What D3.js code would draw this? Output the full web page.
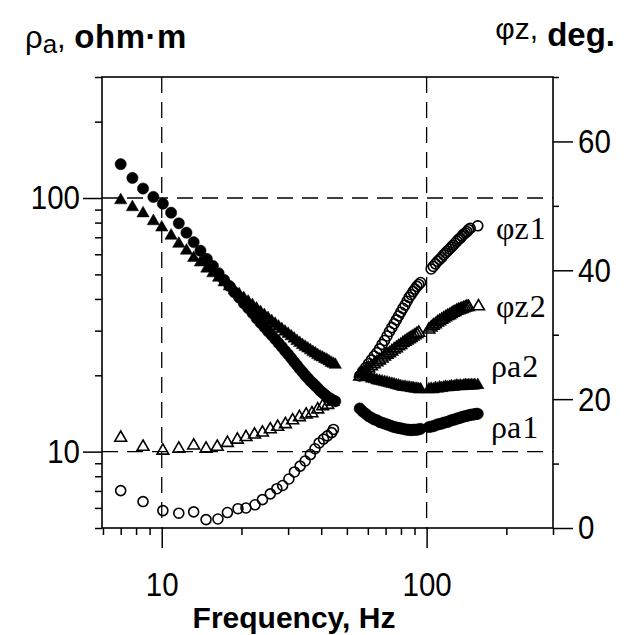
<!DOCTYPE html>
<html>
<head>
<meta charset="utf-8">
<script src="https://cdn.jsdelivr.net/npm/d3@7"></script>
<style>
  body { margin: 0; background: #fff; }
  svg { display: block; }
</style>
</head>
<body>
<div id="chart"></div>
<script>
// apparent resistivity, filled circles (rho_a1) and filled triangles (rho_a2), [Hz, ohm*m]
const rhoA1Low = [[7.0,136],[7.75,120],[8.5,109],[9.3,101],[10.1,95],[10.85,87.5],[11.6,79.5],[12.4,73],[13.2,67],[14.0,62],[14.8,57.5],[15.6,54],[16.4,50.5],[17.2,47.5],[18.0,45],[18.8,42.5],[19.6,40.5],[20.4,38.5],[21.2,36.8],[22.0,35.2],[22.8,33.6],[23.6,32.2],[24.4,31],[25.2,29.8],[26.0,28.8],[26.8,27.8],[27.6,26.8],[28.4,25.9],[29.2,25],[30.0,24.2],[30.8,23.4],[31.6,22.6],[32.4,21.9],[33.2,21.2],[34.0,20.6],[34.8,20],[35.6,19.5],[36.4,19],[37.2,18.6],[38.0,18.2],[38.8,17.8],[39.6,17.4],[40.4,17.1],[41.2,16.8],[42.0,16.5],[42.8,16.3],[43.6,16.1],[44.4,15.9],[45.2,15.8]];
const rhoA1High = [[55.9,14.8],[57.4,14.4],[58.9,14.1],[60.4,13.8],[61.9,13.6],[63.4,13.4],[64.9,13.3],[66.4,13.1],[67.9,13.0],[69.4,12.9],[70.9,12.8],[72.4,12.7],[73.9,12.6],[75.4,12.5],[76.9,12.45],[78.4,12.4],[79.9,12.35],[81.4,12.3],[82.9,12.25],[84.4,12.2],[85.9,12.2],[87.4,12.15],[88.9,12.2],[90.4,12.2],[91.9,12.2],[93.4,12.25],[94.9,12.3],
  [102,12.5],[104,12.55],[106,12.6],[108,12.7],[110,12.8],[112,12.85],[114,12.9],[116,13.0],[118,13.05],[120,13.1],[122,13.2],[124,13.3],[126,13.35],[128,13.4],[130,13.5],[132,13.55],[134,13.6],[136,13.7],[138,13.75],[140,13.8],[142,13.85],[144,13.9],[146,13.95],[148,14.0],[150,14.0],[152,14.05],[154,14.1],[156,14.1]];
const rhoA2Low = [[7.0,98],[7.75,92],[8.5,87],[9.3,81],[10.0,76.5],[10.85,71],[11.6,66],[12.4,62],[13.2,58],[14.0,55.7],[14.8,52.7],[15.6,50.5],[16.4,48.5],[17.2,46.5],[18.0,44.8],[18.8,43.2],[19.6,41.7],[20.4,40.3],[21.2,39],[22.0,37.8],[22.8,36.6],[23.6,35.5],[24.4,34.5],[25.2,33.6],[26.0,32.7],[26.8,31.9],[27.6,31.1],[28.4,30.4],[29.2,29.7],[30.0,29.1],[30.8,28.5],[31.6,27.9],[32.4,27.3],[33.2,26.8],[34.0,26.3],[34.8,25.9],[35.6,25.5],[36.4,25.1],[37.2,24.7],[38.0,24.4],[38.8,24.0],[39.6,23.7],[40.4,23.5],[41.2,23.2],[42.0,23.0],[42.8,22.7],[43.6,22.4],[44.4,22.2],[45.2,22.0]];
const rhoA2High = [[55.9,20.3],[57.4,20.0],[58.9,19.8],[60.4,19.6],[61.9,19.4],[63.4,19.3],[64.9,19.1],[66.4,19.0],[67.9,18.9],[69.4,18.8],[70.9,18.7],[72.4,18.6],[73.9,18.5],[75.4,18.4],[76.9,18.3],[78.4,18.2],[79.9,18.1],[81.4,18.0],[82.9,18.0],[84.4,17.9],[85.9,17.9],[87.4,17.8],[88.9,17.8],[90.4,17.7],[91.9,17.7],[93.4,17.6],[94.9,17.6],
  [102,17.6],[104,17.7],[106,17.6],[108,17.8],[110,17.7],[112,17.9],[114,17.8],[116,17.9],[118,18.0],[120,17.9],[122,18.0],[124,18.1],[126,18.0],[128,18.1],[130,18.2],[132,18.1],[134,18.2],[136,18.1],[138,18.2],[140,18.3],[142,18.2],[144,18.3],[146,18.2],[148,18.3],[150,18.2],[152,18.3],[156,18.3]];

// impedance phase, open circles (phi_z1) and open triangles (phi_z2), [Hz, deg]
const phiZ1Low = [[7.0,5.8],[8.5,4.1],[10.1,2.7],[11.6,2.3],[13.2,2.5],[14.7,1.3],[16.3,1.4],[17.7,2.4],[19.4,3.0],[20.8,3.1],[22.5,3.6],[24.0,4.4],[25.7,5.3],[27.2,6.1],[28.6,6.6],[30.2,7.6],[31.7,8.7],[33.3,9.6],[34.8,10.4],[36.4,11.4],[37.9,12.3],[39.3,13.2],[40.8,13.8],[42.2,14.3],[43.8,14.8],[44.5,15.3]];
const phiZ1High = [[55.9,23.6],[57.4,24.3],[58.9,24.9],[60.4,25.5],[61.9,26.1],[63.4,26.7],[64.9,27.2],[66.4,27.8],[67.9,28.5],[69.4,29.1],[70.9,29.8],[72.4,30.5],[73.9,31.1],[75.4,31.7],[76.9,32.3],[78.4,32.9],[79.9,33.5],[81.4,34.1],[82.9,34.6],[84.4,35.2],[85.9,35.8],[87.4,36.2],[88.9,36.7],[90.4,37.1],[91.9,37.5],[93.4,37.8],[94.9,38.1],
  [104,40.2],[106,40.6],[108,41.0],[110,41.4],[112,41.7],[114,42.0],[116,42.4],[118,42.7],[120,43.0],[122,43.3],[124,43.6],[126,43.9],[128,44.2],[130,44.5],[132,44.8],[134,45.0],[136,45.3],[138,45.6],[140,45.8],[142,46.0],[144,46.3],[146,46.5],[156,46.9]];
const phiZ2Low = [[7.0,14.0],[8.5,12.6],[10.1,12.0],[11.6,12.3],[13.2,12.8],[14.7,12.3],[16.2,12.6],[17.7,13.2],[19.3,13.7],[20.8,14.1],[22.4,14.5],[24.0,14.8],[25.7,15.3],[27.4,15.7],[29.3,16.1],[31.2,16.7],[33.1,17.2],[35.1,17.6],[36.9,17.8],[38.8,18.4],[40.5,18.9],[42.3,19.1],[44.2,19.6]];
const phiZ2High = [[55.9,23.5],[57.4,24.0],[58.9,24.4],[60.4,24.8],[61.9,25.1],[63.4,25.4],[64.9,25.7],[66.4,26.0],[67.9,26.3],[69.4,26.6],[70.9,26.9],[72.4,27.1],[73.9,27.4],[75.4,27.7],[76.9,27.9],[78.4,28.2],[79.9,28.4],[81.4,28.7],[82.9,28.9],[84.4,29.1],[85.9,29.3],[87.4,29.5],[88.9,29.7],[90.4,29.9],[91.9,30.1],[93.4,30.3],
  [102,30.8],[104,31.1],[106,31.4],[108,31.6],[110,31.9],[112,32.1],[114,32.3],[116,32.5],[118,32.7],[120,32.9],[122,33.0],[124,33.2],[126,33.4],[128,33.5],[130,33.7],[132,33.8],[134,33.9],[136,34.0],[138,34.1],[140,34.2],[142,34.3],[144,34.3],[157,34.4]];

// ticks
const freqMajor = [10, 100];
const freqMinor = [6, 7, 8, 9, 20, 30, 40, 50, 60, 70, 80, 90, 200, 300];
const rhoMajor = [10, 100];
const rhoMinor = [5, 6, 7, 8, 9, 20, 30, 40, 50, 60, 70, 80, 90, 200, 300];
const phiMajor = [0, 20, 40, 60];
const phiMinor = [10, 30, 50, 70];

const width = 637;
const height = 635;
const plot = { left: 102, right: 553, top: 77, bottom: 528 };

const svg = d3.select('#chart').append('svg')
    .attr('width', width)
    .attr('height', height);

const x = d3.scaleLog().domain([5.95, 300]).range([plot.left, plot.right]);
const yRho = d3.scaleLog().domain([5, 300]).range([plot.bottom, plot.top]);
const yPhi = d3.scaleLinear().domain([0, 70]).range([plot.bottom, plot.top]);

// dashed grid at the decades
const grid = svg.append('g')
    .attr('stroke', '#000')
    .attr('stroke-width', 1.3)
    .attr('stroke-dasharray', '16,9');
freqMajor.forEach(f => {
    grid.append('line')
        .attr('x1', x(f)).attr('x2', x(f))
        .attr('y1', plot.top).attr('y2', plot.bottom);
});
rhoMajor.forEach(r => {
    grid.append('line')
        .attr('x1', plot.left).attr('x2', plot.right)
        .attr('y1', yRho(r)).attr('y2', yRho(r));
});

// axes, drawn with d3 then restyled
// tick digits in the original are narrow and tall, so squeeze them a bit
const digitWidth = 16.4;
function styleAxis(g) {
    g.select('.domain').remove();
    g.selectAll('line').attr('stroke', '#000').attr('stroke-width', 1.5);
    g.selectAll('text')
        .attr('fill', '#000')
        .style('font-family', 'Arial, "Liberation Sans", sans-serif')
        .style('font-size', '34px')
        .attr('lengthAdjust', 'spacingAndGlyphs')
        .attr('textLength', function () { return this.textContent.length * digitWidth; });
}

const xAxisMinor = d3.axisBottom(x).tickValues(freqMinor).tickSize(7).tickFormat('');
const xAxisMajor = d3.axisBottom(x).tickValues(freqMajor).tickSize(20).tickFormat(d3.format('d'));
svg.append('g').attr('transform', `translate(0,${plot.bottom})`).call(xAxisMinor).call(styleAxis);
svg.append('g').attr('transform', `translate(0,${plot.bottom})`).call(xAxisMajor).call(styleAxis)
    .selectAll('text').attr('dy', null).attr('y', 68);

const yAxisMinor = d3.axisLeft(yRho).tickValues(rhoMinor).tickSize(7).tickFormat('');
const yAxisMajor = d3.axisLeft(yRho).tickValues(rhoMajor).tickSize(19).tickPadding(3).tickFormat(d3.format('d'));
svg.append('g').attr('transform', `translate(${plot.left},0)`).call(yAxisMinor).call(styleAxis);
svg.append('g').attr('transform', `translate(${plot.left},0)`).call(yAxisMajor).call(styleAxis);

const y2AxisMinor = d3.axisRight(yPhi).tickValues(phiMinor).tickSize(6).tickFormat('');
const y2AxisMajor = d3.axisRight(yPhi).tickValues(phiMajor).tickSize(20).tickPadding(5).tickFormat(d3.format('d'));
svg.append('g').attr('transform', `translate(${plot.right},0)`).call(y2AxisMinor).call(styleAxis);
svg.append('g').attr('transform', `translate(${plot.right},0)`).call(y2AxisMajor).call(styleAxis);

// frame
svg.append('rect')
    .attr('x', plot.left).attr('y', plot.top)
    .attr('width', plot.right - plot.left).attr('height', plot.bottom - plot.top)
    .attr('fill', 'none')
    .attr('stroke', '#000')
    .attr('stroke-width', 1.6);

// markers
const circleSym = d3.symbol().type(d3.symbolCircle);
const triSym = d3.symbol().type(d3.symbolTriangle);

function drawSeries(data, yScale, sym, size, filled) {
    svg.append('g')
        .selectAll('path')
        .data(data)
        .join('path')
        .attr('transform', d => `translate(${x(d[0])},${yScale(d[1])})`)
        .attr('d', sym.size(size)())
        .attr('fill', filled ? '#000' : 'none')
        .attr('stroke', '#000')
        .attr('stroke-width', filled ? 0.5 : 1.6);
}

drawSeries(rhoA2Low, yRho, triSym, 66, true);
drawSeries(rhoA2High, yRho, triSym, 66, true);
drawSeries(rhoA1Low, yRho, circleSym, 100, true);
drawSeries(rhoA1High, yRho, circleSym, 100, true);
drawSeries(phiZ2Low, yPhi, triSym, 60, false);
drawSeries(phiZ2High, yPhi, triSym, 60, false);
drawSeries(phiZ1Low, yPhi, circleSym, 78, false);
drawSeries(phiZ1High, yPhi, circleSym, 78, false);

// series labels
const seriesLabels = [
    { base: '\u03c6', sub: 'z1', y: 239, x: 496 },
    { base: '\u03c6', sub: 'z2', y: 317, x: 496 },
    { base: '\u03c1', sub: 'a2', y: 377, x: 491 },
    { base: '\u03c1', sub: 'a1', y: 438, x: 491 }
];
seriesLabels.forEach(l => {
    const t = svg.append('text')
        .attr('x', l.x)
        .attr('y', l.y)
        .style('font-family', '"Liberation Serif", "Times New Roman", serif')
        .style('font-size', '32px')
        .attr('fill', '#000');
    t.append('tspan').text(l.base);
    t.append('tspan').text(l.sub).attr('letter-spacing', 1);
});

// axis titles
const sans = 'Arial, "Liberation Sans", sans-serif';
const leftTitle = svg.append('text')
    .attr('x', 25).attr('y', 48)
    .style('font-family', sans)
    .attr('fill', '#000');
leftTitle.append('tspan').text('\u03c1').style('font-size', '31px');
leftTitle.append('tspan').text('a').style('font-size', '26px').attr('dy', 5);
leftTitle.append('tspan').text(', ').style('font-size', '31px').attr('dy', -5);
leftTitle.append('tspan').text('ohm\u00b7m').style('font-size', '33px').style('font-weight', 'bold').attr('letter-spacing', 0.5);

const rightTitle = svg.append('text')
    .attr('x', 615).attr('y', 46)
    .attr('text-anchor', 'end')
    .style('font-family', sans)
    .attr('fill', '#000');
rightTitle.append('tspan').text('\u03c6z,').style('font-size', '30px').attr('dy', -7);
rightTitle.append('tspan').text(' deg.').style('font-size', '33px').style('font-weight', 'bold').attr('dy', 7);

svg.append('text')
    .attr('x', 294)
    .attr('y', 628)
    .attr('text-anchor', 'middle')
    .style('font-family', sans)
    .style('font-size', '30px')
    .style('font-weight', 'bold')
    .attr('fill', '#000')
    .text('Frequency, Hz');
</script>
</body>
</html>
